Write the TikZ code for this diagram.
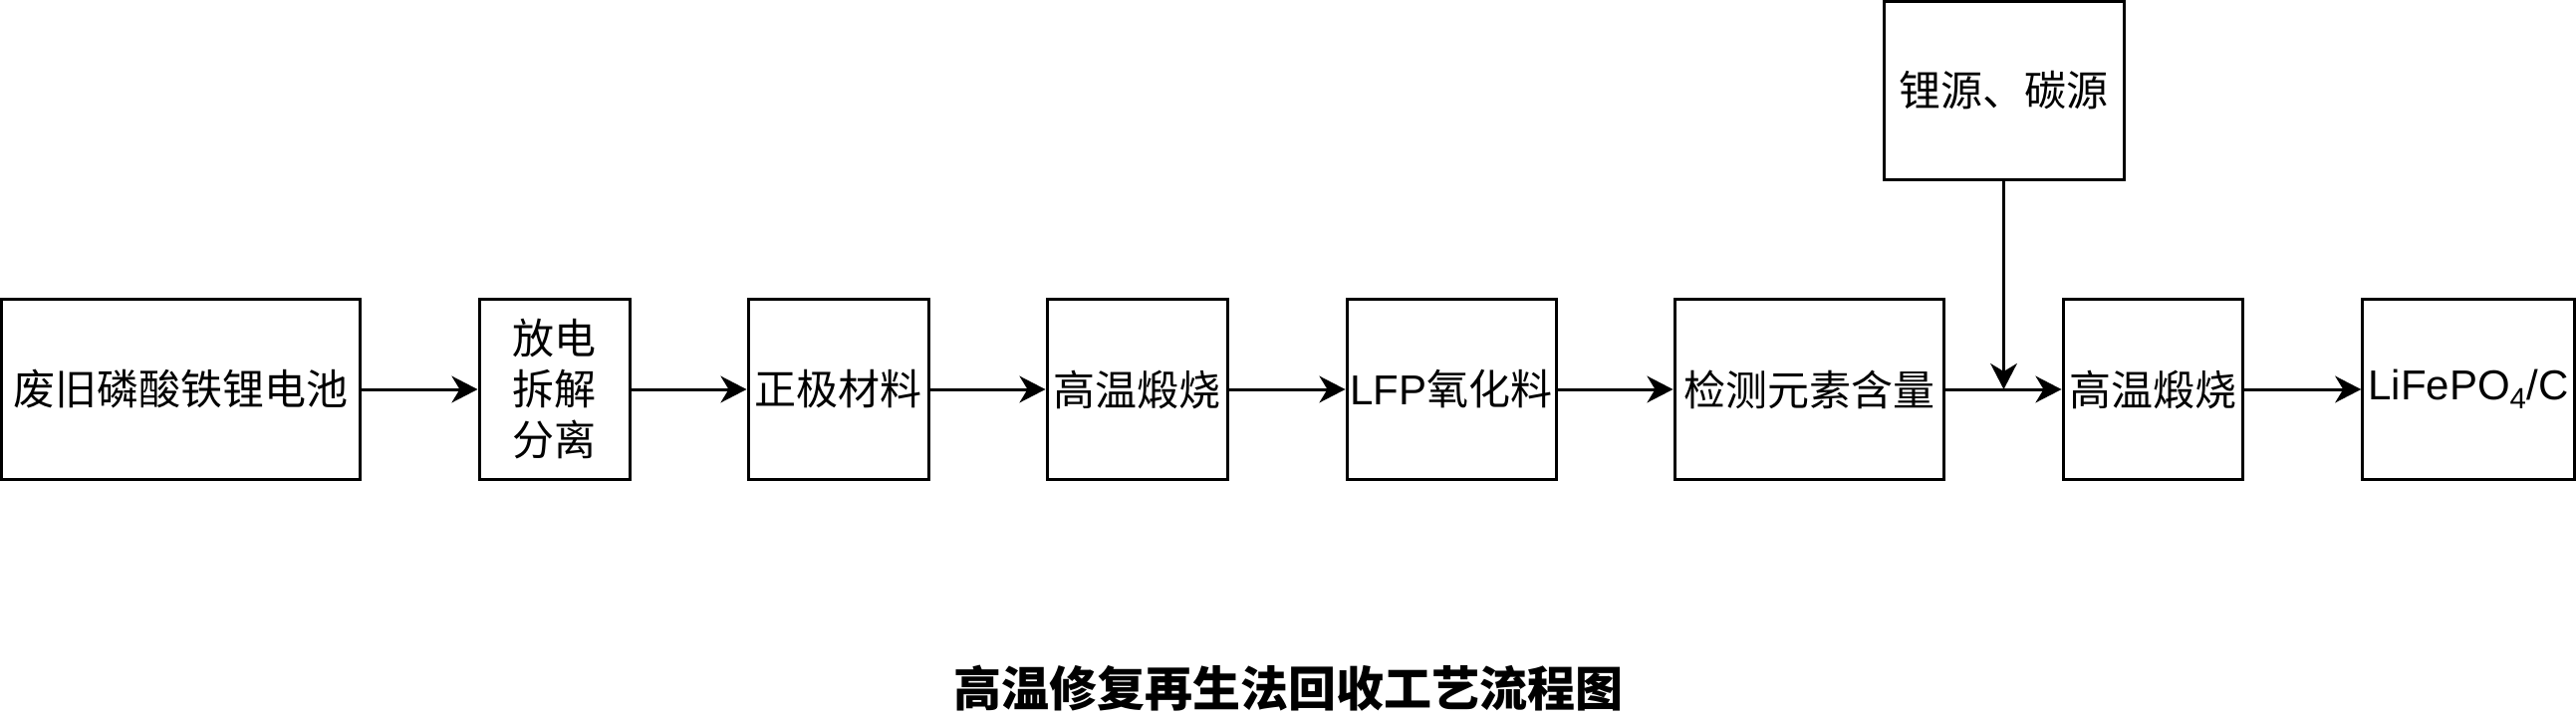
\documentclass[tikz,border=0pt]{standalone}
\usepackage{fontspec}
\setmainfont{Liberation Sans}
\newfontfamily\cjk{Noto Sans CJK SC}
\usetikzlibrary{arrows.meta}

\begin{document}
\begin{tikzpicture}[x=0.75pt, y=-0.75pt,
    box/.style={draw, line width=2.25pt, inner sep=0pt, minimum height=135pt,
                align=center, font=\fontsize{31.5pt}{38.25pt}\selectfont},
    arr/.style={line width=2.25pt, -{Stealth[length=19.5pt, width=20pt, inset=6pt]}}]
                        \useasboundingbox (0,0) rectangle (2586,723);
                        % Process chain:
                        \node[box, minimum width=270pt]   (battery)   at (181.5,391) {\cjk 废旧磷酸铁锂电池};
                        \node[box, minimum width=113.25pt] (dismantle) at (556.5,391) {\cjk 放电\\ \cjk 拆解\\ \cjk 分离};
                        \node[box, minimum width=135.75pt] (cathode)   at (841.5,391) {\cjk 正极材料};
                        \node[box, minimum width=135.75pt] (calcineA)  at (1141.5,391) {\cjk 高温煅烧};
                        \node[box, minimum width=157.5pt]  (oxide)     at (1457,391) {LFP{\cjk 氧化料}};
                        \node[box, minimum width=202.5pt]  (detect)    at (1816,391) {\cjk 检测元素含量};
                        \node[box, minimum width=135pt]    (calcineB)  at (2161,391) {\cjk 高温煅烧};
                        \node[box, minimum width=159.4pt]  (product)   at (2478,391) {LiFePO\textsubscript{4}/C};
                        \node[box, minimum width=180.75pt, minimum height=134.6pt] (source) at (2011.5,91) {\cjk 锂源、碳源};

                        \draw[arr] (battery) -- (dismantle);
                        \draw[arr] (dismantle) -- (cathode);
                        \draw[arr] (cathode) -- (calcineA);
                        \draw[arr] (calcineA) -- (oxide);
                        \draw[arr] (oxide) -- (detect);
                        \draw[arr] (detect) -- (calcineB);
                        \draw[arr] (calcineB) -- (product);

                        % Feed from above:
                        \coordinate (join) at (source.south |- detect.east);
                        \draw[arr] (source) -- (join);

                        \node[font=\fontsize{36pt}{43pt}\selectfont\cjk\bfseries] (title) at (1293.5,691) {高温修复再生法回收工艺流程图};
                    \end{tikzpicture}
\end{document}
